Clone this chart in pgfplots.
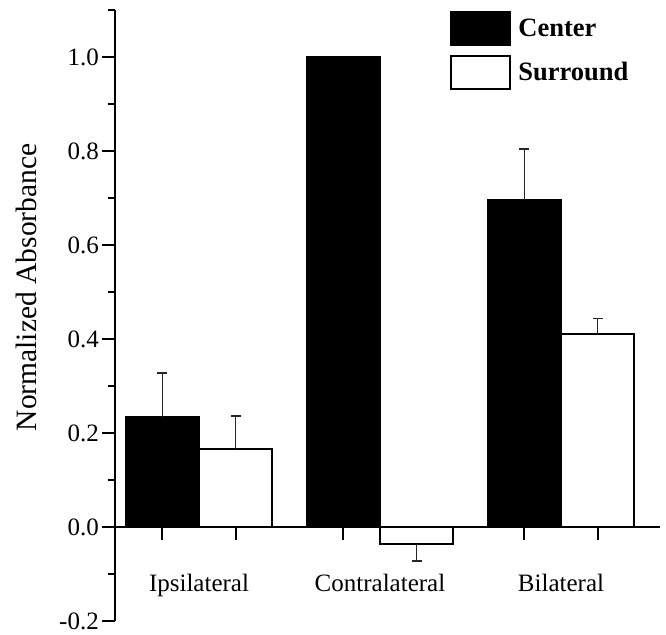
\documentclass[border=0pt]{standalone}
\usepackage{fontspec}
\setmainfont{Liberation Serif}
\usepackage{pgfplots}
\pgfplotsset{compat=1.18}

\begin{document}
\begin{tikzpicture}
\begin{axis}[
    name=ax,
    scale only axis,
    width=545pt, height=611pt,
    xmin=-0.464, xmax=2.547,
    ymin=-0.2, ymax=1.1,
    axis x line=middle,
    axis y line=left,
    axis line style={-, line width=2.2pt},
    clip=false,
    ybar, bar width=0.405,
    % ticks
    tick align=outside,
    major tick length=13pt,
    minor tick length=7pt,
    every tick/.style={black, line width=2pt},
    xtick={-0.2025,0.2025,0.7975,1.2025,1.7975,2.2025},
    xticklabels={},
    extra x ticks={0,1,2},
    extra x tick labels={Ipsilateral,Contralateral,Bilateral},
    extra x tick style={major tick length=0pt,
        xticklabel style={yshift=-44pt}},
    ytick={-0.2,0,0.2,0.4,0.6,0.8,1.0},
    yticklabels={-0.2,0.0,0.2,0.4,0.6,0.8,1.0},
    minor ytick={-0.1,0.1,0.3,0.5,0.7,0.9,1.1},
    tick label style={font=\fontsize{25}{30}\selectfont},
    yticklabel style={inner sep=0pt, xshift=-3pt},
    ylabel={Normalized Absorbance},
    ylabel style={font=\fontsize{29.5}{35}\selectfont, inner sep=0pt,
        at={(axis description cs:-0.143,0.546)}, anchor=south},
    % legend
    legend image code/.code={\draw[#1, line width=2pt] (0pt,-16.5pt) rectangle (59pt,16.5pt);},
    legend style={at={(axis description cs:0.615,0.999)}, anchor=north west,
        draw=none, fill=none, inner sep=0pt, row sep=9pt,
        font=\fontsize{26.5}{30}\selectfont\bfseries,
        nodes={inner sep=0pt}},
    legend cell align=left,
]
% Center
\addplot[fill=black, draw=black, line width=2pt, bar shift=-0.2025,
    error bars/.cd, y dir=both, y explicit, error mark=|,
    error bar style={line width=1.2pt, black!85},
    error mark options={line width=1.4pt, mark size=5pt, black!85}]
coordinates {(0,0.233) += (0,0.095) (1,1.0) (2,0.696) += (0,0.108)};
\addlegendentry{\hspace{7pt}Center}
% Surround
\addplot[fill=white, draw=black, line width=2pt, bar shift=0.2025,
    error bars/.cd, y dir=both, y explicit, error mark=|,
    error bar style={line width=1.2pt, black!85},
    error mark options={line width=1.4pt, mark size=5pt, black!85}]
coordinates {(0,0.166) += (0,0.070) (1,-0.036) -= (0,0.036) (2,0.410) += (0,0.033)};
\addlegendentry{\hspace{7pt}Surround}
\end{axis}
\path ([xshift=-115pt,yshift=-13pt]ax.south west) rectangle ([xshift=6pt,yshift=10pt]ax.north east);
\end{tikzpicture}
\end{document}
